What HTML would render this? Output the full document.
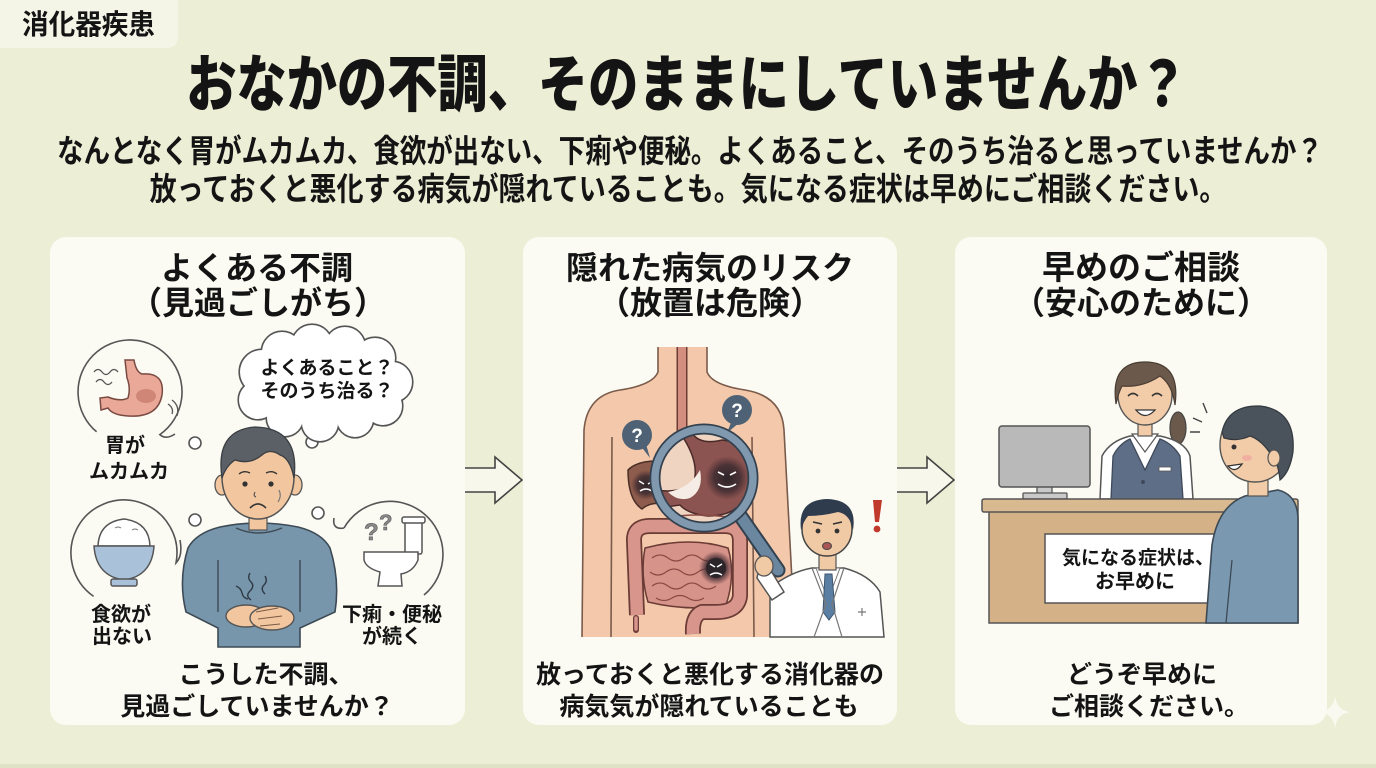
<!DOCTYPE html>
<html><head><meta charset="utf-8">
<style>
html,body{margin:0;padding:0;}
body{width:1376px;height:768px;overflow:hidden;background:#edeed6;position:relative;font-family:"Liberation Sans","Noto Sans CJK JP",sans-serif;color:#141414;}
svg{position:absolute;left:0;top:0;}
.t{position:absolute;white-space:nowrap;line-height:1;font-weight:700;transform-origin:50% 50%;}
.c{transform:translateX(-50%);}
</style></head><body>
<svg width="1376" height="768" viewBox="0 0 1376 768">
<defs>
<radialGradient id="dk" cx="50%" cy="50%" r="50%">
<stop offset="0" stop-color="#2a2228" stop-opacity="0.95"/>
<stop offset="0.6" stop-color="#3a2a30" stop-opacity="0.8"/>
<stop offset="1" stop-color="#4a2a30" stop-opacity="0"/>
</radialGradient>
<clipPath id="lens"><circle cx="704" cy="478" r="46"/></clipPath>
</defs>
<!-- bottom band -->
<rect x="0" y="764" width="1376" height="4" fill="#e0e2c8"/>
<!-- tag -->
<path d="M0 0 H178 V36 Q178 48 166 48 H0 Z" fill="#f5f5e7"/>
<!-- panels -->
<rect x="50" y="237" width="415" height="488" rx="16" fill="#fbfbf3"/>
<rect x="523" y="237" width="374" height="488" rx="16" fill="#fbfbf3"/>
<rect x="955" y="237" width="372" height="488" rx="16" fill="#fbfbf3"/>
<!-- arrows -->
<polygon points="465,468 495,468 495,457 522,480 495,503 495,492 465,492" fill="#f7f7ec"/>
<path d="M465 468 H495 V457 L522 480 L495 503 V492 H465" fill="none" stroke="#444" stroke-width="1.6"/>
<polygon points="897,468 927,468 927,457 954,480 927,503 927,492 897,492" fill="#f7f7ec"/>
<path d="M897 468 H927 V457 L954 480 L927 503 V492 H897" fill="none" stroke="#444" stroke-width="1.6"/>
<!-- sparkle -->
<path d="M1335 696 Q1337 710 1350 712 Q1337 714 1335 728 Q1333 714 1320 712 Q1333 710 1335 696 Z" fill="#fafaf2" opacity="0.9"/>

<!-- ============ PANEL 1 ============ -->
<g fill="none" stroke="#555" stroke-width="1.6">
<!-- stomach bubble -->
<path d="M96.6 431.8 A52 52 0 1 1 159.8 434.6 Q166 440 175 434"/>
<circle cx="195" cy="443" r="6" fill="#fff"/>
<!-- rice bubble -->
<path d="M93.6 596.4 A53 53 0 1 1 176 563 Q183 556 180 540"/>
<circle cx="195" cy="520" r="6" fill="#fff"/>
<!-- toilet bubble -->
<path d="M424 595 A53 53 0 1 0 344 528"/>
<path d="M344 528 Q332 530 334 518"/>
<circle cx="318" cy="513" r="6" fill="#fff"/>
<circle cx="312" cy="442" r="6" fill="#fff"/>
</g>
<!-- cloud -->
<g stroke="#555" stroke-width="3.2" fill="#fff">
<ellipse cx="322" cy="386" rx="76" ry="36"/>
<circle cx="262" cy="372" r="22"/><circle cx="282" cy="352" r="20"/><circle cx="312" cy="345" r="20"/>
<circle cx="345" cy="347" r="20"/><circle cx="375" cy="358" r="20"/><circle cx="392" cy="382" r="20"/>
<circle cx="383" cy="406" r="19"/><circle cx="355" cy="419" r="18"/><circle cx="320" cy="423" r="18"/>
<circle cx="285" cy="418" r="18"/><circle cx="258" cy="400" r="19"/>
</g>
<g fill="#fff">
<ellipse cx="322" cy="386" rx="76" ry="36"/>
<circle cx="262" cy="372" r="22"/><circle cx="282" cy="352" r="20"/><circle cx="312" cy="345" r="20"/>
<circle cx="345" cy="347" r="20"/><circle cx="375" cy="358" r="20"/><circle cx="392" cy="382" r="20"/>
<circle cx="383" cy="406" r="19"/><circle cx="355" cy="419" r="18"/><circle cx="320" cy="423" r="18"/>
<circle cx="285" cy="418" r="18"/><circle cx="258" cy="400" r="19"/>
</g>
<!-- stomach -->
<path d="M125 360 L134 360 Q136 372 142 374 Q165 372 162 395 Q158 418 128 416 Q112 415 108 408 L101 410 L100 398 L108 397 Q120 402 128 398 Q131 388 127 378 Z" fill="#e9a898" stroke="#7a4a42" stroke-width="1.5"/>
<ellipse cx="146" cy="396" rx="10" ry="7" fill="#d08676"/>
<g fill="none" stroke="#555" stroke-width="1.3">
<path d="M94 372 q4 -5 8 0 t8 0 t8 0"/><path d="M96 382 q4 -5 8 0 t8 0"/>
<path d="M168 404 q6 4 4 10"/><path d="M172 400 q8 6 5 16"/>
</g>
<!-- rice bowl -->
<path d="M98 546 Q99 522 124 519 Q149 522 150 546 Z" fill="#fff" stroke="#555" stroke-width="1.5"/>
<path d="M115 528 q3 -2 6 0 M132 530 q3 -2 6 0" stroke="#777" fill="none"/>
<path d="M94 546 L154 546 Q152 576 124 580 Q96 576 94 546 Z" fill="#a9c2da" stroke="#555" stroke-width="1.5"/>
<rect x="111" y="579" width="26" height="7" rx="2" fill="#a9c2da" stroke="#555" stroke-width="1.5"/>
<!-- toilet -->
<rect x="405" y="520" width="17" height="34" rx="2" fill="#fff" stroke="#555" stroke-width="1.5"/>
<rect x="402" y="517" width="23" height="6" rx="2" fill="#fff" stroke="#555" stroke-width="1.5"/>
<path d="M364 552 L418 552 L418 560 Q413 572 401 574 L402 586 L378 586 L380 572 Q366 568 364 560 Z" fill="#fff" stroke="#555" stroke-width="1.5"/>
<text x="364" y="540" font-family="Liberation Sans, sans-serif" font-weight="700" font-size="24" fill="#8a8a8a" stroke="#555" stroke-width="0.6">?</text>
<text x="379" y="530" font-family="Liberation Sans, sans-serif" font-weight="700" font-size="22" fill="#8a8a8a" stroke="#555" stroke-width="0.6">?</text>
<!-- man -->
<path d="M220 527 Q258 519 298 527 Q322 533 330 548 Q340 580 335 612 L300 628 L300 647 L218 647 L218 628 L186 612 Q178 580 188 548 Q196 533 220 527 Z" fill="#7796ac" stroke="#3d4a55" stroke-width="1.6"/>
<path d="M218 560 L218 612 M300 560 L300 612" stroke="#3d4a55" stroke-width="1.4" fill="none"/>
<rect x="249" y="510" width="18" height="20" fill="#f2c7a0" stroke="#555" stroke-width="1.2"/>
<path d="M236 528 Q258 538 282 528" fill="none" stroke="#3d4a55" stroke-width="1.4"/>
<ellipse cx="222" cy="485" rx="7" ry="10" fill="#f2c7a0" stroke="#555" stroke-width="1.3"/>
<ellipse cx="295" cy="485" rx="7" ry="10" fill="#f2c7a0" stroke="#555" stroke-width="1.3"/>
<ellipse cx="258" cy="477" rx="36" ry="42" fill="#f2c7a0" stroke="#555" stroke-width="1.5"/>
<path d="M222 478 Q215 430 255 427 Q300 428 294 478 Q290 458 280 455 Q270 448 262 455 Q250 465 235 460 Q226 466 222 478 Z" fill="#5b6067" stroke="#3a3d42" stroke-width="1.3"/>
<circle cx="245" cy="484" r="2.6" fill="#333"/><circle cx="271" cy="484" r="2.6" fill="#333"/>
<path d="M239 474 q5 -4 11 -1 M266 473 q6 -3 11 1" stroke="#333" stroke-width="1.4" fill="none"/>
<path d="M250 508 Q258 500 266 508" stroke="#333" stroke-width="1.6" fill="none"/>
<path d="M255 492 q-2 4 1 5" stroke="#555" stroke-width="1.2" fill="none"/>
<path d="M279 490 q3 6 -1 12" stroke="#777" stroke-width="1.2" fill="none"/>
<g stroke="#2f3a44" stroke-width="1.4" fill="none">
<path d="M250 573 q-3 5 1 9 t-1 9 t1 9"/><path d="M265 576 q3 5 -1 9 t1 9"/><path d="M236 586 q5 2 6 7 t6 6"/>
</g>
<ellipse cx="246" cy="616" rx="20" ry="11" fill="#f2c7a0" stroke="#555" stroke-width="1.4"/>
<ellipse cx="272" cy="618" rx="22" ry="12" fill="#f2c7a0" stroke="#555" stroke-width="1.4"/>
<path d="M256 612 l22 -4 M258 619 l24 -3 M260 626 l20 -2" stroke="#7a5a44" stroke-width="1.1" fill="none"/>

<!-- ============ PANEL 2 ============ -->
<path d="M658 347 L707 347 L707 372 Q712 385 745 390 Q782 396 784 430 L795 637 L582 637 L584 430 Q587 395 620 390 Q653 385 658 372 Z" fill="#f4c9ab"/>
<g fill="none" stroke="#7a5a4a" stroke-width="1.6">
<path d="M658 347 L658 372 Q653 385 620 390 Q587 395 584 430 L582 637"/>
<path d="M707 347 L707 372 Q712 385 745 390 Q782 396 784 430 L795 637"/>
<path d="M612 437 L611 637 M752 437 L754 637"/>
</g>
<path d="M682 347 L682 445" stroke="#6b3b36" stroke-width="11"/>
<path d="M682 347 L682 445" stroke="#d48e80" stroke-width="8"/>
<!-- liver -->
<path d="M628 470 Q640 458 670 462 L670 505 Q652 500 642 509 Q628 500 628 470 Z" fill="#8d5c4c" stroke="#4a2e28" stroke-width="1.5"/>
<circle cx="646" cy="485" r="15" fill="url(#dk)"/>
<path d="M639 481 l5 3 M653 481 l-5 3 M640 491 q6 -4 12 0" stroke="#fff" stroke-width="1.5" fill="none"/>
<!-- intestines -->
<path d="M645 548 Q690 536 728 548 Q736 575 726 605 Q690 612 648 602 Q640 575 645 548 Z" fill="#d6938a" stroke="#6b3b36" stroke-width="1.5"/>
<g stroke="#8a4a44" stroke-width="1.2" fill="none">
<path d="M652 558 q8 -6 16 0 t16 0 t16 0 t16 0"/><path d="M650 572 q8 6 16 0 t16 0 t16 0 t16 0"/>
<path d="M652 586 q8 -6 16 0 t16 0 t16 0 t16 0"/><path d="M656 598 q8 5 16 0 t16 0 t16 0"/>
</g>
<path d="M637 615 L634 540 Q634 526 650 526 L725 526 Q740 526 740 541 L740 596 Q738 612 716 612 L702 612 Q692 616 693 634" fill="none" stroke="#6b3b36" stroke-width="16" stroke-linejoin="round"/>
<path d="M637 615 L634 540 Q634 526 650 526 L725 526 Q740 526 740 541 L740 596 Q738 612 716 612 L702 612 Q692 616 693 634" fill="none" stroke="#d8958b" stroke-width="12.5" stroke-linejoin="round"/>
<path d="M636 618 L636 630" stroke="#6b3b36" stroke-width="6" stroke-linecap="round"/>
<path d="M636 618 L636 629" stroke="#d8958b" stroke-width="3.5" stroke-linecap="round"/>
<circle cx="716" cy="568" r="17" fill="url(#dk)"/>
<circle cx="716" cy="568" r="10" fill="#2b2428"/>
<path d="M710 564 l5 3 M722 564 l-5 3 M710 575 q6 -4 12 0" stroke="#fff" stroke-width="1.5" fill="none"/>
<!-- question bubbles -->
<path d="M640 445 L650 458 L646 444 Z" fill="#4f6275"/>
<circle cx="637" cy="435" r="15" fill="#4f6275"/>
<text x="637" y="442" text-anchor="middle" font-family="Liberation Sans, sans-serif" font-weight="700" font-size="19" fill="#fff">?</text>
<path d="M732 420 L727 433 L740 422 Z" fill="#4f6275"/>
<circle cx="737" cy="410" r="15" fill="#4f6275"/>
<text x="737" y="417" text-anchor="middle" font-family="Liberation Sans, sans-serif" font-weight="700" font-size="19" fill="#fff">?</text>
<!-- magnifier -->
<g clip-path="url(#lens)">
<rect x="650" y="425" width="110" height="110" fill="#efd4c2"/>
<path d="M678 430 L690 430 Q698 446 722 440 Q756 444 752 480 Q746 516 708 516 Q688 514 680 505 L658 508 L656 490 Q680 494 694 482 Q700 460 678 430 Z" fill="#8b5450" stroke="#4a2a28" stroke-width="1.5"/>
<path d="M668 492 Q690 488 700 470 Q704 490 690 498 Q678 502 668 492 Z" fill="#f6ece6"/>
<circle cx="727" cy="478" r="22" fill="url(#dk)"/>
<path d="M718 472 l6 3 M736 472 l-6 3 M718 484 q9 6 18 0" stroke="#fff" stroke-width="1.6" fill="none"/>
<path d="M660 520 Q690 510 750 520" stroke="#8a4a44" stroke-width="1.5" fill="none"/>
</g>
<path d="M739 514 L778 570" stroke="#33414f" stroke-width="15" stroke-linecap="round"/>
<path d="M739 514 L778 570" stroke="#6b87a0" stroke-width="11" stroke-linecap="round"/>
<circle cx="704" cy="478" r="49" fill="none" stroke="#33414f" stroke-width="11"/>
<circle cx="704" cy="478" r="49" fill="none" stroke="#8199ae" stroke-width="7.5"/>
<!-- doctor -->
<path d="M770 588 Q790 572 812 568 L844 568 Q870 575 880 592 L884 637 L770 637 Z" fill="#fff" stroke="#555" stroke-width="1.5"/>
<path d="M772 600 L757 578 Q758 568 768 566 L784 592 Z" fill="#fff" stroke="#555" stroke-width="1.5"/>
<ellipse cx="764" cy="566" rx="9" ry="10" fill="#f0c9a5" stroke="#555" stroke-width="1.3"/>
<path d="M816 568 L828 600 L840 568 Z" fill="#fff" stroke="#777" stroke-width="1"/>
<path d="M825 574 L832 574 L835 612 L829 620 L823 612 Z" fill="#5b7fa3" stroke="#3d556e" stroke-width="1"/>
<path d="M812 568 L826 604 L814 637 M844 568 L832 604 L842 637" fill="none" stroke="#777" stroke-width="1.2"/>
<path d="M858 612 h8 M862 608 v8" stroke="#777" stroke-width="1.2"/>
<rect x="819" y="550" width="17" height="20" fill="#f0c9a5" stroke="#555" stroke-width="1.2"/>
<ellipse cx="827" cy="529" rx="25" ry="27" fill="#f0c9a5" stroke="#444" stroke-width="1.5"/>
<path d="M801 530 Q797 500 827 499 Q858 500 853 530 Q850 514 838 512 Q822 516 808 516 Q803 522 801 530 Z" fill="#2f3c4d"/>
<path d="M813 522 l9 2 M842 522 l-9 2" stroke="#333" stroke-width="1.6"/>
<circle cx="818" cy="531" r="2.4" fill="#333"/><circle cx="837" cy="531" r="2.4" fill="#333"/>
<ellipse cx="827" cy="546" rx="4.5" ry="3.5" fill="#a55" stroke="#444" stroke-width="1"/>
<path d="M873 500 L882 500 L879 522 L875 522 Z" fill="#c0392b"/>
<circle cx="877" cy="529" r="3.4" fill="#c0392b"/>

<!-- ============ PANEL 3 ============ -->
<!-- monitor -->
<rect x="1037" y="460" width="15" height="34" fill="#c9c9c9" stroke="#555" stroke-width="1.3"/>
<rect x="1023" y="493" width="44" height="6" rx="1" fill="#c9c9c9" stroke="#555" stroke-width="1.3"/>
<rect x="999" y="426" width="91" height="61" rx="3" fill="#b9b9b9" stroke="#555" stroke-width="1.5"/>
<!-- receptionist -->
<ellipse cx="1178" cy="428" rx="8" ry="16" fill="#6b5a4b" stroke="#444" stroke-width="1.2"/>
<path d="M1100 499 L1102 456 Q1110 441 1130 436 L1160 436 Q1185 441 1190 456 L1193 499 Z" fill="#fff" stroke="#555" stroke-width="1.5"/>
<path d="M1111 499 L1113 456 Q1119 444 1130 439 L1145 470 L1160 439 Q1173 444 1180 456 L1183 499 Z" fill="#5e6e86" stroke="#3e4a5a" stroke-width="1.3"/>
<path d="M1132 434 L1145 452 L1158 434 Z" fill="#fff" stroke="#555" stroke-width="1.2"/>
<rect x="1159" y="467" width="12" height="4" fill="#fff" stroke="#555" stroke-width="0.8"/>
<circle cx="1143" cy="482" r="2" fill="#3e4a5a"/>
<rect x="1138" y="418" width="14" height="18" fill="#f2cba8" stroke="#555" stroke-width="1.2"/>
<ellipse cx="1145" cy="395" rx="27" ry="30" fill="#f2cba8" stroke="#555" stroke-width="1.4"/>
<path d="M1116 404 Q1110 362 1145 362 Q1181 362 1175 405 Q1172 384 1160 376 Q1142 388 1122 386 Q1118 394 1116 404 Z" fill="#6b5a4b" stroke="#4a3d33" stroke-width="1.2"/>
<path d="M1128 396 q5 -5 10 0 M1152 396 q5 -5 10 0" stroke="#333" stroke-width="1.6" fill="none"/>
<path d="M1136 410 Q1145 421 1155 410 Z" fill="#fff" stroke="#333" stroke-width="1.3"/>
<!-- desk -->
<rect x="989" y="511" width="309" height="112" fill="#d4b186" stroke="#555" stroke-width="1.5"/>
<rect x="982" y="499" width="316" height="13" rx="2" fill="#d9ba90" stroke="#555" stroke-width="1.5"/>
<rect x="1045" y="534" width="172" height="69" fill="#fff" stroke="#555" stroke-width="1.5"/>
<!-- patient -->
<path d="M1206 623 L1212 545 Q1218 506 1245 496 L1278 490 Q1298 495 1298 520 L1298 623 Z" fill="#7a98b0" stroke="#3d4a55" stroke-width="1.6"/>
<path d="M1232 560 L1226 623" stroke="#3d4a55" stroke-width="1.3" fill="none"/>
<rect x="1248" y="470" width="20" height="26" fill="#f2cba8" stroke="#555" stroke-width="1.2"/>
<ellipse cx="1255" cy="445" rx="35" ry="37" fill="#f2cba8" stroke="#555" stroke-width="1.4"/>
<path d="M1222 432 Q1228 405 1260 406 Q1296 410 1293 452 Q1290 472 1280 480 Q1278 462 1272 456 Q1262 440 1250 436 Q1238 442 1224 438 Z" fill="#4a525b" stroke="#33393f" stroke-width="1.2"/>
<ellipse cx="1274" cy="458" rx="6" ry="8" fill="#f2cba8" stroke="#555" stroke-width="1.2"/>
<circle cx="1234" cy="447" r="2.5" fill="#333"/>
<ellipse cx="1247" cy="458" rx="5" ry="3" fill="#f0a8a0" opacity="0.8"/>
<path d="M1228 466 Q1235 474 1242 464 Z" fill="#fff" stroke="#333" stroke-width="1.3"/>
<path d="M1203 403 l4 10 M1193 418 l9 4 M1190 432 l10 0" stroke="#444" stroke-width="1.4"/>
</svg>

<!-- TEXT -->
<div class="t" style="left:22px;top:11px;font-size:28px;transform-origin:0 50%;transform:scaleX(0.95);">消化器疾患</div>
<div class="t" style="left:687px;top:55px;font-size:62px;font-weight:900;transform:translateX(-50%) scaleX(0.81);">おなかの不調、そのままにしていませんか？</div>
<div class="t" style="left:690px;top:135px;font-size:32px;transform:translateX(-50%) scaleX(0.827);">なんとなく胃がムカムカ、食欲が出ない、下痢や便秘。よくあること、そのうち治ると思っていませんか？</div>
<div class="t" style="left:688px;top:173px;font-size:32px;transform:translateX(-50%) scaleX(0.844);">放っておくと悪化する病気が隠れていることも。気になる症状は早めにご相談ください。</div>

<div class="t c" style="left:257px;top:252px;font-size:32px;">よくある不調</div>
<div class="t c" style="left:258px;top:287px;font-size:32px;">（見過ごしがち）</div>
<div class="t c" style="left:710px;top:252px;font-size:32px;">隠れた病気のリスク</div>
<div class="t c" style="left:710px;top:287px;font-size:32px;">（放置は危険）</div>
<div class="t c" style="left:1141px;top:251px;font-size:33px;">早めのご相談</div>
<div class="t c" style="left:1141px;top:287px;font-size:32px;">（安心のために）</div>

<div class="t c" style="left:327px;top:359px;font-size:19px;">よくあること？</div>
<div class="t c" style="left:327px;top:382px;font-size:19px;">そのうち治る？</div>
<div class="t c" style="left:125px;top:436px;font-size:20px;">胃が</div>
<div class="t c" style="left:129px;top:462px;font-size:20px;">ムカムカ</div>
<div class="t c" style="left:121px;top:605px;font-size:20px;">食欲が</div>
<div class="t c" style="left:122px;top:627px;font-size:20px;">出ない</div>
<div class="t c" style="left:392px;top:605px;font-size:20px;">下痢・便秘</div>
<div class="t c" style="left:392px;top:627px;font-size:20px;">が続く</div>

<div class="t c" style="left:1138px;top:549px;font-size:19px;">気になる症状は、</div>
<div class="t c" style="left:1135px;top:572px;font-size:20px;">お早めに</div>

<div class="t c" style="left:266px;top:663px;font-size:25px;">こうした不調、</div>
<div class="t c" style="left:257px;top:695px;font-size:25px;">見過ごしていませんか？</div>
<div class="t c" style="left:710px;top:663px;font-size:25px;">放っておくと悪化する消化器の</div>
<div class="t c" style="left:709px;top:695px;font-size:25px;">病気気が隠れていることも</div>
<div class="t c" style="left:1142px;top:663px;font-size:25px;">どうぞ早めに</div>
<div class="t c" style="left:1149px;top:695px;font-size:25px;">ご相談ください。</div>
</body></html>
